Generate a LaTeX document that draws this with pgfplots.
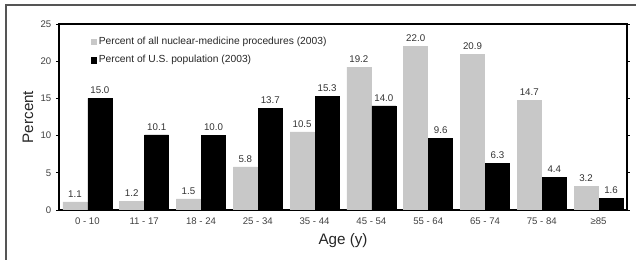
\documentclass[border=0pt]{standalone}
\usepackage{fontspec}
\setmainfont{Liberation Sans}
\usepackage{pgfplots}
\pgfplotsset{compat=1.18}
\definecolor{barg}{RGB}{200,200,200}
\definecolor{frameg}{RGB}{85,85,85}
\begin{document}
\begin{tikzpicture}
\useasboundingbox (-44.25pt,-37.5pt) rectangle (432.75pt,157.5pt);
\draw[frameg, line width=0.8pt] (-39.75pt,-37.5pt) -- (-39.75pt,153.75pt) -- (432.75pt,153.75pt);
\begin{axis}[
  at={(0,0)}, anchor=south west,
  scale only axis, width=426pt, height=139.5pt,
  xmin=-0.5, xmax=9.5, ymin=0, ymax=25,
  ytick={0,5,10,15,20,25},
  xtick={0,...,9},
  xticklabels={0 - 10, 11 - 17, 18 - 24, 25 - 34, 35 - 44, 45 - 54, 55 - 64, 65 - 74, 75 - 84, ≥85},
  /pgf/number format/assume math mode=true,
  ticklabel style={font=\fontsize{7.2}{8.5}\selectfont, text=black!75},
  x tick style={draw=none},
  y tick style={black, line width=0.6pt},
  tick align=outside, major tick length=2.25pt,
  axis line style={black, line width=0.9pt},
  ybar=0.75pt, bar width=18pt,
  xlabel={Age (y)}, ylabel={Percent},
  xlabel style={at={(axis description cs:0.5,-0.1667)}, anchor=center, font=\fontsize{11.4}{13}\selectfont, text=black!85},
  ylabel style={at={(axis description cs:-0.0546,0.5)}, anchor=center, font=\fontsize{11.4}{13}\selectfont, text=black!85},
  nodes near coords={\pgfmathprintnumber[fixed,precision=1,fixed zerofill]{\pgfplotspointmeta}},
  every node near coord/.append style={font=\fontsize{7.3}{8.5}\selectfont, text=black!80},
  legend style={at={(axis description cs:0.048,0.96)}, anchor=north west, draw=none, fill=none,
    font=\fontsize{7.7}{9}\selectfont, text=black!85, row sep=2.8pt},
  legend cell align=left,
  legend image code/.code={\fill[#1] (0pt,-1.9pt) rectangle (3.8pt,1.9pt);},
]
\addplot[fill=barg, draw=barg] coordinates {(0,1.1) (1,1.2) (2,1.5) (3,5.8) (4,10.5) (5,19.2) (6,22.0) (7,20.9) (8,14.7) (9,3.2)};
\addplot[fill=black, draw=black] coordinates {(0,15.0) (1,10.1) (2,10.0) (3,13.7) (4,15.3) (5,14.0) (6,9.6) (7,6.3) (8,4.4) (9,1.6)};
\legend{Percent of all nuclear-medicine procedures (2003), Percent of U.S. population (2003)}
\end{axis}
\end{tikzpicture}
\end{document}
